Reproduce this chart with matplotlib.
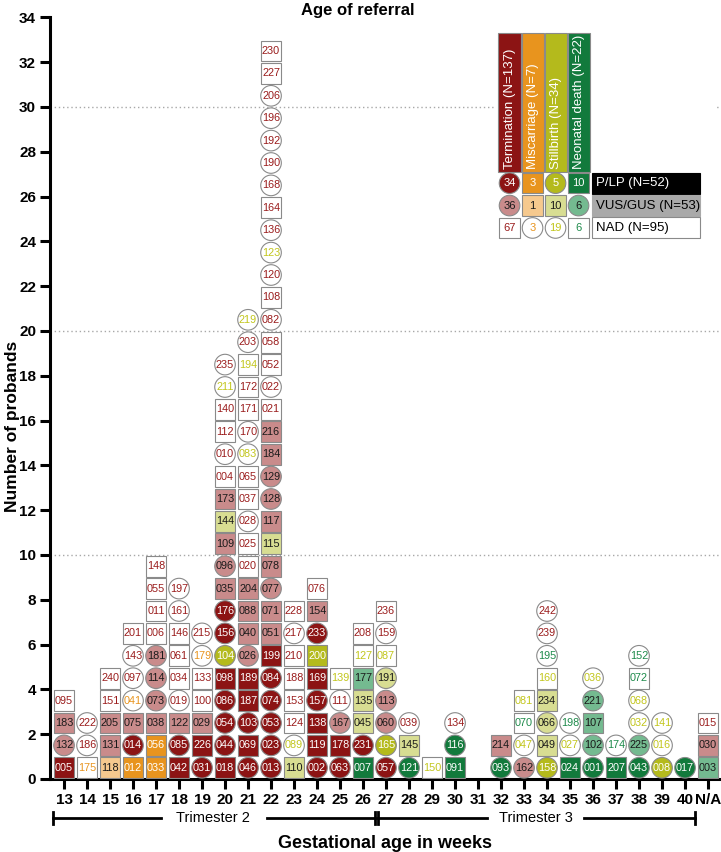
import matplotlib
matplotlib.use("Agg")
import matplotlib.pyplot as plt
from matplotlib.patches import Rectangle, Ellipse
from matplotlib.transforms import blended_transform_factory

plt.rcParams['font.family'] = ['Liberation Sans', 'DejaVu Sans']

# x categories
weeks = [str(w) for w in range(13, 41)] + ['N/A']

# one token per proband, bottom to top: id + shape (o/s) + outcome (T/M/S/N) + class (P/V/N)
# outcome: T termination, M miscarriage, S stillbirth, N neonatal death
# class: P = P/LP, V = VUS/GUS, N = NAD
w13 = "005sTP 132oTV 183sTV 095sTN"
w14 = "175sMN 186oTN 222oTN"
w15 = "118sMV 131sTV 205sTV 151sTN 240sTN"
w16 = "012sMP 014oTP 075sTV 041oMN 097oTN 143oTN 201sTN"
w17 = "033sMP 056sMP 038sTV 073oTV 114oTV 181oTV 006sTN 011sTN 055sTN 148sTN"
w18 = "042sTP 085oTP 122sTV 019oTN 034sTN 061sTN 146sTN 161oTN 197oTN"
w19 = "031oTP 226sTP 029sTV 100sTN 133sTN 179oMN 215oTN"
w20 = ("018sTP 044oTP 054oTP 086oTP 098sTP 104oSP 156oTP 176oTP 035sTV 096oTV "
       "109sTV 144sSV 173sTV 004sTN 010oTN 112sTN 140sTN 211oSN 235oTN")
w21 = ("046oTP 069sTP 103oTP 187sTP 189sTP 026oTV 040sTV 088sTV 204sTV 020sTN "
       "025sTN 028oTN 037sTN 065sTN 083oSN 170oTN 171sTN 172sTN 194sSN 203oTN 219oSN")
w22 = ("013oTP 023oTP 053oTP 074oTP 084oTP 199sTP 051sTV 071sTV 077oTV 078sTV "
       "115sSV 117sTV 128oTV 129oTV 184sTV 216sTV 021sTN 022oTN 052sTN 058sTN "
       "082oTN 108sTN 120oTN 123oSN 136oTN 164sTN 168oTN 190oTN 192oTN 196oTN "
       "206oTN 227sTN 230sTN")
w23 = "110sSV 089oSN 124sTN 153sTN 188sTN 210sTN 217oTN 228sTN"
w24 = "002oTP 119sTP 138sTP 157oTP 169sTP 200sSP 233oTP 154sTV 076sTN"
w25 = "063oTP 178sTP 167oTV 111oTN 139sSN"
w26 = "007sNP 231oTP 045sSV 135sSV 177sNV 127sSN 208sTN"
w27 = "057oTP 165oSP 060oTV 113oTV 191oSV 087sSN 159oTN 236sTN"
w28 = "121oNP 145sSV 039oTN"
w29 = "150sSN"
w30 = "091sNP 116oNP 134oTN"
w31 = ""
w32 = "093oNP 214sTV"
w33 = "162oTV 047oSN 070sNN 081sSN"
w34 = "158oSP 049sSV 066oSV 234sSV 160sSN 195oNN 239oTN 242oTN"
w35 = "024sNP 027oSN 198oNN"
w36 = "001oNP 102oNV 107sNV 221oNV 036oSN"
w37 = "207sNP 174oNN"
w38 = "043oNP 225oNV 032oSN 068oSN 072sNN 152oNN"
w39 = "008oSP 016oSN 141oSN"
w40 = "017oNP"
wNA = "003sNV 030sTV 015sTN"

columns = [w13, w14, w15, w16, w17, w18, w19, w20, w21, w22, w23, w24, w25, w26,
           w27, w28, w29, w30, w31, w32, w33, w34, w35, w36, w37, w38, w39, w40, wNA]

legend_outcomes = ['Termination (N=137)', 'Miscarriage (N=7)', 'Stillbirth (N=34)', 'Neonatal death (N=22)']
legend_classes = ['P/LP (N=52)', 'VUS/GUS (N=53)', 'NAD (N=95)']
legend_counts = [[34, 3, 5, 10], [36, 1, 10, 6], [67, 3, 19, 6]]
legend_shapes = ["osos", "osso", "soos"]

# colours
dark = {'T': '#8c1414', 'M': '#e8941e', 'S': '#b4ba1c', 'N': '#127a3c'}
light = {'T': '#c98b8b', 'M': '#f6c98e', 'S': '#d8dd92', 'N': '#74ba90'}
txt = {'T': '#9a1c1c', 'M': '#e8941e', 'S': '#c2c61c', 'N': '#1d8a4a'}


def style(out, cls):
    if cls == 'P':
        return dark[out], 'white'
    if cls == 'V':
        return light[out], '#1a1a1a'
    return 'white', txt[out]


W, H = 0.895, 0.92


def marker(ax, x, y, shape, out, cls, label, size=7.8):
    fc, tc = style(out, cls)
    if shape == 's':
        p = Rectangle((x - W / 2, y - H / 2), W, H, fc=fc, ec='#8a8a8a', lw=0.8, zorder=3)
    else:
        p = Ellipse((x, y), W, H, fc=fc, ec='#8a8a8a', lw=0.8, zorder=3)
    ax.add_patch(p)
    ax.text(x, y, label, ha='center', va='center', fontsize=size, color=tc, zorder=4)


fig = plt.figure(figsize=(7.21, 8.52), dpi=100)
ax = fig.add_axes([50 / 721, 73 / 852, 671 / 721, 761.6 / 852])
ax.set_xlim(12.39, 12.39 + 671 / 23)
ax.set_ylim(0, 34)

for g in (10, 20, 30):
    ax.axhline(g, color='#a8a8a8', lw=1.0, ls=(0, (1, 2)), zorder=1)

for i, col in enumerate(columns):
    x = 13 + i
    for j, tok in enumerate(col.split()):
        marker(ax, x, j + 0.5, tok[3], tok[4], tok[5], tok[:3])

# legend
ax.add_patch(Rectangle((31.8, 24.0), 9.5, 9.5, fc='white', ec='none', zorder=2))
outs = 'TMSN'
for k, name in enumerate(legend_outcomes):
    cx = 32.37 + k
    ax.add_patch(Rectangle((cx - 0.48, 27.1), 0.96, 6.2, fc=dark[outs[k]], ec='#8a8a8a', lw=0.8, zorder=3))
    ax.text(cx, 27.22, name, rotation=90, ha='center', va='bottom', color='white', fontsize=9.5, zorder=4)
for r, name in enumerate(legend_classes):
    cy = 26.6 - r
    cls = 'PVN'[r]
    for k in range(4):
        marker(ax, 32.37 + k, cy, legend_shapes[r][k], outs[k], cls, str(legend_counts[r][k]), size=8)
    bfc = ['black', '#a9a9a9', 'white'][r]
    bec = ['black', '#a9a9a9', '#8a8a8a'][r]
    btc = ['white', 'black', 'black'][r]
    ax.add_patch(Rectangle((35.96, cy - 0.47), 4.69, 0.94, fc=bfc, ec=bec, lw=0.8, zorder=3))
    ax.text(36.12, cy, name, ha='left', va='center', color=btc, fontsize=9.5, zorder=4)

# axes styling
for s in ('top', 'right'):
    ax.spines[s].set_visible(False)
for s in ('left', 'bottom'):
    ax.spines[s].set_linewidth(2.2)
ax.set_yticks(range(0, 35, 2))
ax.set_yticklabels([str(v) for v in range(0, 35, 2)], fontweight='bold', fontsize=11)
ax.set_xticks(range(13, 42))
ax.set_xticklabels(weeks, fontweight='bold', fontsize=11)
ax.tick_params(axis='both', width=2.2, length=7, pad=3)

# trimester brackets
tr = blended_transform_factory(ax.transData, fig.transFigure)
yb = 1 - 818 / 852
cap = 6 / 852
for x0, x1 in [(12.52, 17.22), (21.83, 26.52), (26.65, 31.39), (35.61, 40.43)]:
    ax.plot([x0, x1], [yb, yb], color='black', lw=2, transform=tr, clip_on=False)
for xc in (12.52, 26.52, 26.65, 40.43):
    ax.plot([xc, xc], [yb - cap, yb + cap], color='black', lw=2, transform=tr, clip_on=False)
ax.text(19.48, yb, 'Trimester 2', ha='center', va='center', fontsize=10.5, transform=tr)
ax.text(33.52, yb, 'Trimester 3', ha='center', va='center', fontsize=10.5, transform=tr)

fig.text(385 / 721, 1 - 843 / 852, 'Gestational age in weeks', ha='center', va='center',
         fontsize=13, fontweight='bold')
fig.text(13 / 721, 0.5, 'Number of probands', rotation=90, ha='center', va='center',
         fontsize=12.5, fontweight='bold')
fig.text(358 / 721, 1 - 11 / 852, 'Age of referral', ha='center', va='center',
         fontsize=12, fontweight='bold')

fig.savefig('out.png', dpi=100)
plt.close(fig)
